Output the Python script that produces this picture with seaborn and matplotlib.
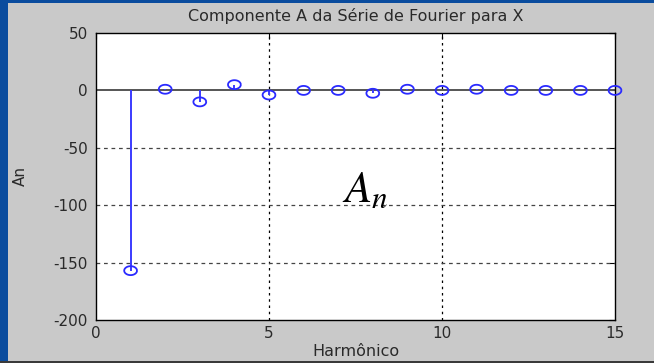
import numpy as np
import pandas as pd
import matplotlib
matplotlib.use("Agg")
import matplotlib.pyplot as plt
from matplotlib.path import Path
from matplotlib.patches import Rectangle
import seaborn as sns

# Fourier series: coefficients A_n for each harmonic
harmonics = [1, 2, 3, 4, 5, 6, 7, 8, 9, 10, 11, 12, 13, 14, 15]
a_n = [-157, 1, -10, 5, -4, 0, 0, -2.5, 1, 0, 1, 0, 0, 0, 0]

x_ticks = [0, 5, 10, 15]
y_ticks = [50, 0, -50, -100, -150, -200]

title = "Componente A da Série de Fourier para X"
x_label = "Harmônico"
y_label = "An"

df = pd.DataFrame({"n": harmonics, "An": a_n})

sns.set_style("white")
plt.rcParams["font.family"] = ["DejaVu Sans"]
plt.rcParams["mathtext.fontset"] = "stix"
plt.rcParams["axes.unicode_minus"] = False

fig = plt.figure(figsize=(6.54, 3.63), dpi=100)
fig.patch.set_facecolor("#c9c9c9")

# slide background strips around the figure window
blue = "#0a4c9e"
fig.add_artist(Rectangle((0, 0), 8 / 654, 1, transform=fig.transFigure,
                         facecolor=blue, edgecolor="none", zorder=0))
fig.add_artist(Rectangle((0, 1 - 3 / 363), 1, 3 / 363, transform=fig.transFigure,
                         facecolor=blue, edgecolor="none", zorder=0))
fig.add_artist(Rectangle((0, 0), 1, 2 / 363, transform=fig.transFigure,
                         facecolor="#3a3a3a", edgecolor="none", zorder=0))

ax = fig.add_axes([96 / 654, 43 / 363, 519 / 654, 287 / 363])
ax.set_facecolor("white")

ax.set_xlim(0, 15)
ax.set_ylim(-200, 50)

# dotted grid
for xv in [5, 10]:
    ax.axvline(xv, color="black", lw=0.9, ls=(0, (2, 3)), zorder=1)
for yv in [-50, -100, -150]:
    ax.axhline(yv, color="#444444", lw=0.9, ls=(0, (3, 3)), zorder=1)

# stem baseline and stems
ax.axhline(0, color="#555555", lw=1.4, zorder=2)
ax.vlines(df["n"], 0, df["An"], color="#3b3bff", lw=1.4, zorder=3)

# open elliptical markers
t = np.linspace(0, 2 * np.pi, 41)
ellipse = Path(np.column_stack([1.0 * np.cos(t), 0.7 * np.sin(t)]))
sns.scatterplot(data=df, x="n", y="An", ax=ax, marker=ellipse, s=85,
                facecolor="none", edgecolor="#2a2aff", linewidth=1.3, zorder=4,
                legend=False, clip_on=False)

ax.set_xticks(x_ticks)
ax.set_yticks(y_ticks)
ax.tick_params(direction="in", length=4, width=0.8, colors="black",
               labelcolor="#2a2a2a", labelsize=11, top=True, right=True, pad=4)
ax.tick_params(axis="y", pad=6)
for s in ax.spines.values():
    s.set_visible(True)
    s.set_color("black")
    s.set_linewidth(1.0)

ax.set_title(title, fontsize=11.5, color="#2a2a2a", pad=8.5)
ax.set_xlabel(x_label, fontsize=11.5, color="#2a2a2a")
ax.set_ylabel(y_label, fontsize=11, color="#2a2a2a")
ax.xaxis.set_label_coords(0.5, -0.085)
ax.yaxis.set_label_coords(-0.131, 0.5)

ax.text(7.1, -97, r"$A_n$", fontsize=32, color="black", ha="left",
        va="baseline", zorder=5)

fig.savefig("out.png", dpi=100, facecolor=fig.get_facecolor())
